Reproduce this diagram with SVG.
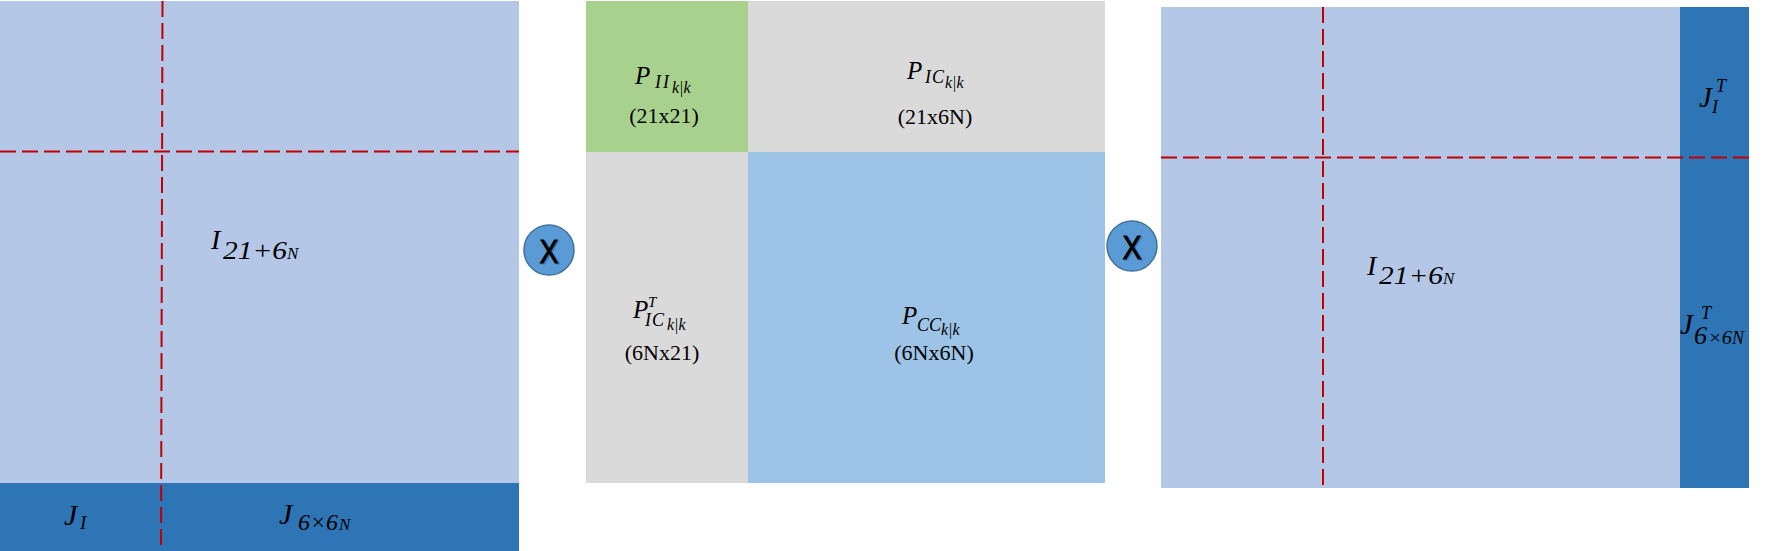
<svg xmlns="http://www.w3.org/2000/svg" width="1773" height="551" viewBox="0 0 1773 551">
<style>
.light{fill:#B4C7E7}
.dark{fill:#2E75B6}
.green{fill:#A9D18E}
.gray{fill:#DADADA}
.blue{fill:#9DC3E6}
.dash{stroke:#C00000;stroke-width:2;stroke-dasharray:16 6;fill:none}
.m{font-family:"Liberation Serif","Times New Roman",serif;font-style:italic;fill:#000}
.d{font-family:"Liberation Serif","Times New Roman",serif;font-size:22px;fill:#000;text-anchor:middle}
.op{fill:#5B9BD5;stroke:#41719C;stroke-width:1.5}
.opx{font-family:"Liberation Sans",Arial,sans-serif;font-size:34px;fill:#000;stroke:#000;stroke-width:0.9;text-anchor:middle}
.opxs{font-family:"Liberation Sans",Arial,sans-serif;font-size:34px;fill:#2a4a6a;stroke:#2a4a6a;stroke-width:0.9;text-anchor:middle;opacity:0.45}
</style>
<rect x="0" y="0" width="1773" height="551" fill="#FFFFFF"/>

<g id="matrix-left">
<rect class="light" x="0" y="1" width="519" height="482"/>
<rect class="dark" x="0" y="483" width="519" height="68"/>
<line class="dash" x1="0" y1="151.5" x2="519" y2="151.5"/>
<line class="dash" x1="162.5" y1="1" x2="161" y2="551"/>
<text class="m" font-size="28" x="211" y="249">I</text>
<text class="m" font-size="25" x="223" y="259" textLength="64" lengthAdjust="spacingAndGlyphs">21+6</text>
<text class="m" font-size="17" x="287" y="259">N</text>
<text class="m" font-size="30" x="64" y="525">J</text>
<text class="m" font-size="19" x="80" y="529">I</text>
<text class="m" font-size="30" x="279" y="524">J</text>
<text class="m" font-size="24" x="298" y="530" textLength="40" lengthAdjust="spacingAndGlyphs">6×6</text>
<text class="m" font-size="17" x="339" y="530">N</text>
</g>

<g id="op-1">
<circle class="op" cx="549" cy="250" r="25"/>
<text class="opxs" x="550.5" y="264" textLength="19" lengthAdjust="spacingAndGlyphs">X</text>
<text class="opx" x="549" y="262.5" textLength="19" lengthAdjust="spacingAndGlyphs">X</text>
</g>

<g id="matrix-mid">
<rect class="green" x="586" y="1" width="162" height="151"/>
<rect class="gray" x="748" y="1" width="357" height="151"/>
<rect class="gray" x="586" y="152" width="162" height="331"/>
<rect class="blue" x="748" y="152" width="357" height="331"/>
<g id="p-ii">
<text class="m" font-size="25" x="635" y="84">P</text>
<text class="m" font-size="18" x="655" y="88" letter-spacing="2">II</text>
<text class="m" font-size="16" x="672" y="93">k|k</text>
<text class="d" x="664" y="123">(21x21)</text>
</g>
<g id="p-ic">
<text class="m" font-size="25" x="907" y="79">P</text>
<text class="m" font-size="18" x="925" y="83" letter-spacing="1">IC</text>
<text class="m" font-size="16" x="945" y="88">k|k</text>
<text class="d" x="935" y="124">(21x6N)</text>
</g>
<g id="p-ic-t">
<text class="m" font-size="25" x="633" y="318">P</text>
<text class="m" font-size="15" x="648" y="307">T</text>
<text class="m" font-size="18" x="645" y="326" letter-spacing="1">IC</text>
<text class="m" font-size="16" x="667" y="330">k|k</text>
<text class="d" x="662" y="360">(6Nx21)</text>
</g>
<g id="p-cc">
<text class="m" font-size="25" x="902" y="324">P</text>
<text class="m" font-size="18" x="917" y="331">CC</text>
<text class="m" font-size="16" x="941" y="335">k|k</text>
<text class="d" x="934" y="360">(6Nx6N)</text>
</g>
</g>

<g id="op-2">
<circle class="op" cx="1132" cy="246" r="25"/>
<text class="opxs" x="1133.5" y="260" textLength="19" lengthAdjust="spacingAndGlyphs">X</text>
<text class="opx" x="1132" y="258.5" textLength="19" lengthAdjust="spacingAndGlyphs">X</text>
</g>

<g id="matrix-right">
<rect class="light" x="1161" y="7" width="519" height="481"/>
<rect class="dark" x="1680" y="7" width="69" height="481"/>
<line class="dash" x1="1161" y1="157.5" x2="1749" y2="157.5"/>
<line class="dash" x1="1323" y1="7" x2="1323" y2="488"/>
<text class="m" font-size="28" x="1367" y="275">I</text>
<text class="m" font-size="25" x="1379" y="284" textLength="64" lengthAdjust="spacingAndGlyphs">21+6</text>
<text class="m" font-size="17" x="1443" y="284">N</text>
<text class="m" font-size="29" x="1699" y="107">J</text>
<text class="m" font-size="18" x="1716" y="92">T</text>
<text class="m" font-size="18" x="1712" y="113">I</text>
<text class="m" font-size="29" x="1680" y="334">J</text>
<text class="m" font-size="18" x="1701" y="319">T</text>
<text class="m" font-size="26" x="1694" y="344">6</text>
<text class="m" font-size="19" x="1708" y="344" textLength="24" lengthAdjust="spacingAndGlyphs">×6</text>
<text class="m" font-size="18" x="1732" y="344">N</text>
</g>
</svg>
